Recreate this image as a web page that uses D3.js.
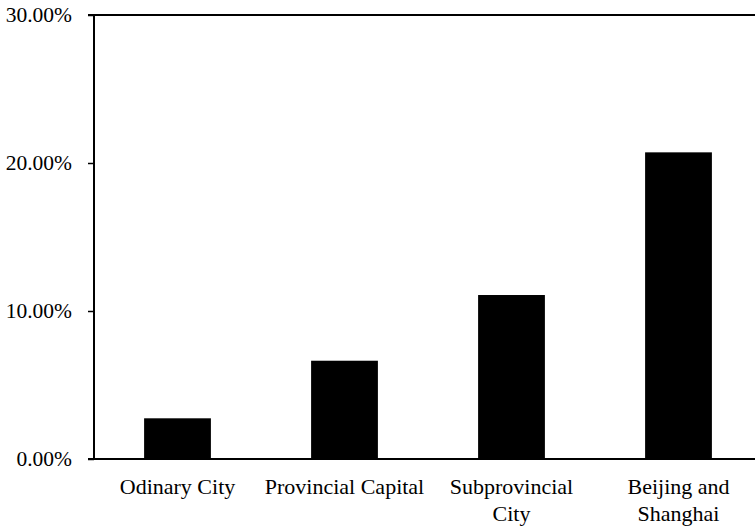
<!DOCTYPE html>
<html>
<head>
<meta charset="utf-8">
<script src="https://cdn.jsdelivr.net/npm/d3@7"></script>
<style>
  html, body { margin: 0; padding: 0; background: #fff; }
  svg { display: block; }
  text { font-family: "Liberation Serif", "Times New Roman", serif; fill: #000; }
</style>
</head>
<body>
<svg id="chart" width="755" height="528"></svg>
<script>
// City tiers and their shares
const categories = [["Odinary City"], ["Provincial Capital"], ["Subprovincial", "City"], ["Beijing and", "Shanghai"]];
const shares = [2.75, 6.64, 11.08, 20.72];
const yTicks = [0, 10, 20, 30];

const svg = d3.select("#chart");
const plotLeft = 94, plotRight = 762, plotTop = 15, plotBottom = 459;

const x = d3.scaleBand().domain(d3.range(categories.length)).range([plotLeft, plotRight]).paddingInner(0.6).paddingOuter(0.3);
const y = d3.scaleLinear().domain([0, 30]).range([plotBottom, plotTop]);

// Bars
svg.selectAll("rect.bar").data(shares).join("rect")
  .attr("class", "bar")
  .attr("x", (d, i) => x(i))
  .attr("width", x.bandwidth())
  .attr("y", d => y(d))
  .attr("height", d => y(0) - y(d))
  .attr("fill", "#000");

// Frame: top and bottom lines across the plot
svg.append("line").attr("x1", plotLeft).attr("x2", 755).attr("y1", plotTop).attr("y2", plotTop)
  .attr("stroke", "#000").attr("stroke-width", 2);
svg.append("line").attr("x1", plotLeft).attr("x2", 755).attr("y1", plotBottom).attr("y2", plotBottom)
  .attr("stroke", "#000").attr("stroke-width", 2);

// Y axis
const yAxis = svg.append("g").attr("transform", `translate(${plotLeft},0)`)
  .call(d3.axisLeft(y).tickValues(yTicks).tickSize(6).tickPadding(16)
    .tickFormat(d => d.toFixed(2) + "%"));
yAxis.select(".domain").attr("stroke-width", 2).attr("d", `M-6,${plotTop}H0V${plotBottom}H-6`);
yAxis.selectAll(".tick line").attr("stroke-width", 1.5);
yAxis.selectAll(".tick text").style("font-family", '"Liberation Serif", serif').style("font-size", "21.5px");

// Category labels
const labels = svg.append("g").selectAll("text").data(categories).join("text")
  .attr("text-anchor", "middle")
  .attr("x", (d, i) => x(i) + x.bandwidth() / 2)
  .attr("y", 494)
  .style("font-size", "22px");
labels.selectAll("tspan").data(d => d).join("tspan")
  .attr("x", function () { return d3.select(this.parentNode).attr("x"); })
  .attr("dy", (d, i) => i === 0 ? 0 : 27)
  .text(d => d);
</script>
</body>
</html>
